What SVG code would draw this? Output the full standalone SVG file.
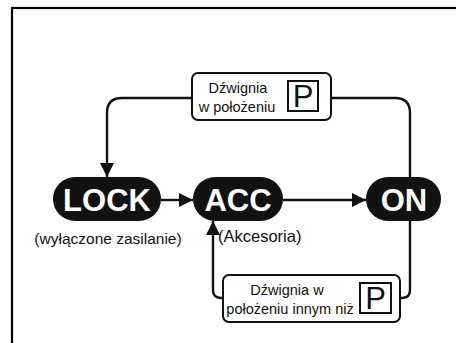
<svg xmlns="http://www.w3.org/2000/svg" width="456" height="343" viewBox="0 0 456 343">
<style>
.frame{fill:none;stroke:#000;stroke-width:2.2}
.pill{fill:#111}
.pt{font-family:"Liberation Sans",Arial,sans-serif;font-weight:bold;fill:#fff;text-anchor:middle}
.box{fill:#fff;stroke:#111;stroke-width:2}
.pbox{fill:#fff;stroke:#111;stroke-width:2}
.bt{font-family:"Liberation Sans",Arial,sans-serif;font-size:14.5px;fill:#111;text-anchor:middle}
.pl{font-family:"Liberation Sans",Arial,sans-serif;font-size:31px;fill:#111;text-anchor:middle}
.lbl{font-family:"Liberation Sans",Arial,sans-serif;fill:#111}
.con{fill:none;stroke:#111;stroke-width:2.4}
</style>
<defs>
<marker id="ah" viewBox="0 0 10 10" refX="10" refY="5" markerWidth="6" markerHeight="6" orient="auto" markerUnits="strokeWidth">
<path d="M0,0 L10,5 L0,10 z" fill="#111"/>
</marker>
</defs>
<rect class="frame" x="12" y="8" width="460" height="350"/>
<g id="connectors">
<path class="con" d="M192,98 H122 Q107,98 107,113 V177" marker-end="url(#ah)"/>
<path class="con" d="M331,98 H395 Q410,98 410,113 V177"/>
<path class="con" d="M161,200 H193" marker-end="url(#ah)"/>
<path class="con" d="M283,200 H366" marker-end="url(#ah)"/>
<path class="con" d="M410,220 V290 Q410,298 402,298 H400"/>
<path class="con" d="M223,298 H221 Q213,298 213,290 V221" marker-end="url(#ah)"/>
</g>
<g id="lock">
<rect class="pill" x="53" y="177" width="108" height="44" rx="22"/>
<text class="pt" x="107" y="211" font-size="31">LOCK</text>
<text class="lbl" x="108" y="244" font-size="15.5" text-anchor="middle">(wyłączone zasilanie)</text>
</g>
<g id="acc">
<rect class="pill" x="193" y="177" width="90" height="44" rx="22"/>
<text class="pt" x="238" y="211" font-size="31">ACC</text>
<text class="lbl" x="218" y="242" font-size="16.5">(Akcesoria)</text>
</g>
<g id="on">
<rect class="pill" x="366" y="177" width="75" height="44" rx="22"/>
<text class="pt" x="404" y="211" font-size="31">ON</text>
</g>
<g id="box-p">
<rect class="box" x="192" y="73" width="139" height="47" rx="6"/>
<text class="bt" x="238" y="93">Dźwignia</text>
<text class="bt" x="237" y="112">w położeniu</text>
<rect class="pbox" x="288" y="81" width="30" height="30"/>
<text class="pl" x="303" y="107">P</text>
</g>
<g id="box-notp">
<rect class="box" x="223" y="275" width="177" height="47" rx="6"/>
<text class="bt" x="287" y="295">Dźwignia w</text>
<text class="bt" x="290" y="314">położeniu innym niż</text>
<rect class="pbox" x="360" y="283" width="31" height="30"/>
<text class="pl" x="375.5" y="309">P</text>
</g>
</svg>
